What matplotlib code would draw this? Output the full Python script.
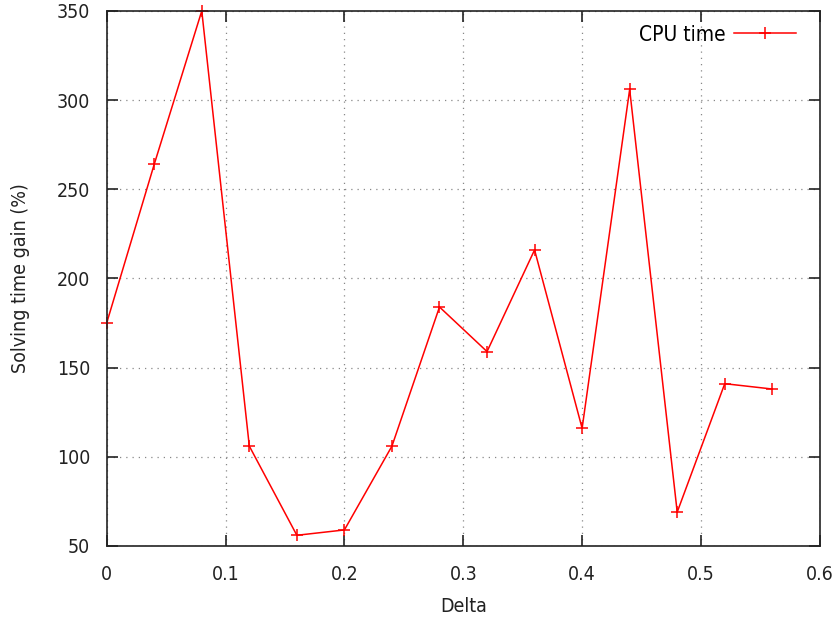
import matplotlib
matplotlib.use("Agg")
from matplotlib import pyplot as plt

# 数据
delta = [0, 0.04, 0.08, 0.12, 0.16, 0.2, 0.24, 0.28, 0.32, 0.36, 0.4, 0.44, 0.48, 0.52, 0.56]
gain = [175, 264, 350, 106, 56, 59, 106, 184, 159, 216, 116, 306, 69, 141, 138]
x_ticks = [0, 0.1, 0.2, 0.3, 0.4, 0.5, 0.6]
x_labels = ["0", "0.1", "0.2", "0.3", "0.4", "0.5", "0.6"]
y_ticks = [50, 100, 150, 200, 250, 300, 350]


def main():
    plt.rcParams['font.family'] = ['DejaVu Sans']
    plt.rcParams['font.stretch'] = 'condensed'
    fig = plt.figure(figsize=(8.4, 6.28), dpi=100)
    ax = fig.add_axes([0.127, 0.1306, 0.849, 0.852])

    ax.plot(delta, gain, color="red", linewidth=1.1, marker="+",
            markersize=8, markeredgewidth=1.1, label="CPU time", clip_on=False)

    ax.set_xlim(0, 0.6)
    ax.set_ylim(50, 350)
    ax.set_xticks(x_ticks)
    ax.set_xticklabels(x_labels)
    ax.set_yticks(y_ticks)
    ax.tick_params(direction="in", length=8, width=1.2, top=True, right=True,
                   labelsize=14, colors="#222222")
    ax.tick_params(axis="x", pad=14)
    ax.tick_params(axis="y", pad=12)
    for s in ax.spines.values():
        s.set_linewidth(1.2)
        s.set_color("#222222")
    ax.grid(True, linestyle=(0, (1, 4)), color="#888888", linewidth=0.9)

    ax.set_xlabel("Delta", fontsize=14, color="#222222", labelpad=9)
    ax.set_ylabel("Solving time gain (%)", fontsize=14, color="#222222", labelpad=19)

    ax.legend(loc="upper right", frameon=False, markerfirst=False, fontsize=15,
              handlelength=3.0, handletextpad=0.4, borderaxespad=0.5,
              bbox_to_anchor=(1 - 5 / 713, 1 + 5 / 535))

    fig.savefig("out.png", dpi=100)


if __name__ == "__main__":
    main()
